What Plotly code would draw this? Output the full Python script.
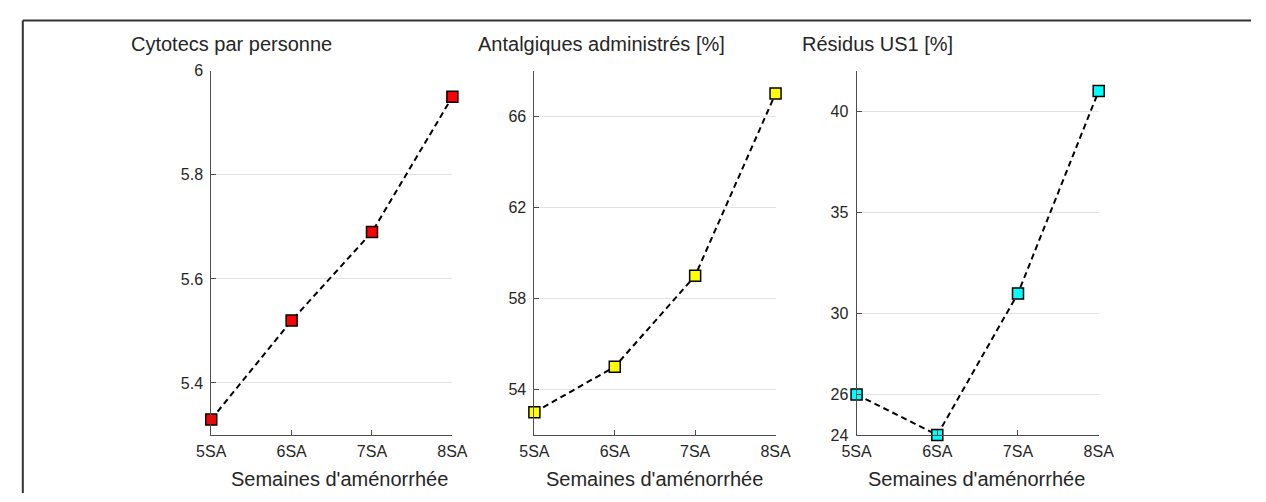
import plotly.graph_objects as go

categories = ["5SA", "6SA", "7SA", "8SA"]
cytotecs = [5.33, 5.52, 5.69, 5.95]
antalgiques = [53, 55, 59, 67]
residus = [26, 24, 31, 41]

titles = ["Cytotecs par personne", "Antalgiques administrés [%]", "Résidus US1 [%]"]
xlabel = "Semaines d'aménorrhée"
colors = ["#ff0000", "#ffff00", "#00ffff"]
yticks = [[5.4, 5.6, 5.8, 6.0], [54, 58, 62, 66], [24, 26, 30, 35, 40]]
yticktext = [["5.4", "5.6", "5.8", "6"], ["54", "58", "62", "66"], ["24", "26", "30", "35", "40"]]
yranges = [[5.30, 6.0], [52, 68], [24, 42]]

W, H = 1266, 502
px_x = [(201, 448), (532, 779), (862, 1110)]
y_top, y_bot = 65, 442
title_x = [117, 472, 804]
xlabel_x = [332, 655, 985]

FONT = "Liberation Sans, Arial, sans-serif"
TXT = "#262626"
AX = "#4d4d4d"
GRID = "#e3e3e3"

fig = go.Figure()
series = [cytotecs, antalgiques, residus]
layout = dict(
    width=W, height=H, autosize=False,
    margin=dict(l=0, r=0, t=0, b=0),
    paper_bgcolor="white", plot_bgcolor="white",
    showlegend=False,
    font=dict(family=FONT, color=TXT, size=16),
)
annotations = []
for i, vals in enumerate(series):
    s = "" if i == 0 else str(i + 1)
    fig.add_trace(go.Scatter(
        x=list(range(len(categories))), y=vals,
        xaxis="x" + s, yaxis="y" + s,
        mode="lines+markers",
        line=dict(color="black", width=2, dash="6px,4px"),
        marker=dict(symbol="square", size=11, color=colors[i],
                    line=dict(color="black", width=1.5)),
        cliponaxis=False,
    ))
    layout["xaxis" + s] = dict(
        domain=[px_x[i][0] / W, px_x[i][1] / W],
        anchor="y" + s, range=[0, 3],
        tickmode="array", tickvals=list(range(len(categories))), ticktext=categories,
        ticks="inside", ticklen=5, tickcolor=AX, tickwidth=1,
        showline=True, linecolor=AX, linewidth=1,
        showgrid=False, zeroline=False, ticklabelstandoff=2,
        tickfont=dict(size=16, color=TXT, family=FONT),
    )
    layout["yaxis" + s] = dict(
        domain=[(H - y_bot) / H, (H - y_top) / H],
        anchor="x" + s, range=yranges[i],
        tickmode="array", tickvals=yticks[i], ticktext=yticktext[i],
        ticks="inside", ticklen=5, tickcolor=AX, tickwidth=1,
        showline=True, linecolor=AX, linewidth=1,
        showgrid=True, gridcolor=GRID, gridwidth=1, zeroline=False,
        ticklabelstandoff=4,
        tickfont=dict(size=16, color=TXT, family=FONT),
    )
    annotations.append(dict(
        text=titles[i], xref="paper", yref="paper",
        x=title_x[i] / W, y=1 - 37 / H, xanchor="left", yanchor="middle",
        showarrow=False, font=dict(size=20, color=TXT, family=FONT),
    ))
    annotations.append(dict(
        text=xlabel, xref="paper", yref="paper",
        x=xlabel_x[i] / W, y=1 - 487 / H, xanchor="center", yanchor="middle",
        showarrow=False, font=dict(size=20, color=TXT, family=FONT),
    ))

layout["annotations"] = annotations
frame = dict(color="#333333", width=2)
layout["shapes"] = [
    dict(type="line", xref="paper", yref="paper",
         x0=8 / W, x1=8 / W, y0=0, y1=1 - 13 / H, line=frame, layer="above"),
    dict(type="line", xref="paper", yref="paper",
         x0=8 / W, x1=1, y0=1 - 13 / H, y1=1 - 13 / H, line=frame, layer="above"),
]
fig.update_layout(**layout)

fig.write_html(
    "out.html",
    config={"displayModeBar": False},
    post_script="document.body.style.margin='0';document.body.style.overflow='hidden';",
)
